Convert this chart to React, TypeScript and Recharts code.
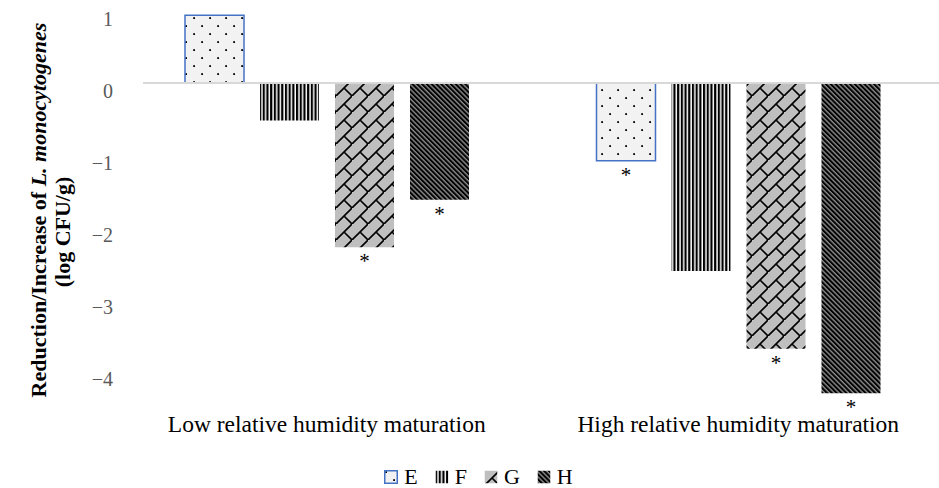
import { BarChart, Bar, XAxis, YAxis, ReferenceLine, Legend, LabelList } from "recharts";

// values (log CFU/g)
const categories = ["Low relative humidity maturation", "High relative humidity maturation"];
const valuesE = [0.94, -1.08];
const valuesF = [-0.52, -2.61];
const valuesG = [-2.28, -3.69];
const valuesH = [-1.62, -4.31];

// significance markers
const starsE = ["", "*"];
const starsF = ["", ""];
const starsG = ["*", "*"];
const starsH = ["*", "*"];

const yTicks = [1, 0, -1, -2, -3, -4];
const seriesNames = ["E", "F", "G", "H"];

const data = categories.map((name, i) => ({
  name,
  E: valuesE[i],
  F: valuesF[i],
  G: valuesG[i],
  H: valuesH[i],
  starE: starsE[i],
  starF: starsF[i],
  starG: starsG[i],
  starH: starsH[i],
}));

const SERIF = "'Liberation Serif', 'Times New Roman', serif";

const fmt = (v: number) => (v < 0 ? "\u2212" + Math.abs(v) : String(v));

function YTick(props: any) {
  const { x, y, payload } = props;
  return (
    <text x={x} y={y + 8} textAnchor="end" dominantBaseline="central" fontSize={20} fontFamily={SERIF} fill="#595959">
      {fmt(payload.value)}
    </text>
  );
}

function XTick(props: any) {
  const { x, y, payload } = props;
  return (
    <text x={x} y={y + 17} textAnchor="middle" dominantBaseline="central" fontSize={23.5} fontFamily={SERIF} fill="#000">
      {payload.value}
    </text>
  );
}

function Star(props: any) {
  const { x, y, width, height, value } = props;
  if (!value) return null;
  const bottom = Math.max(y, y + height);
  return (
    <text x={x + width / 2} y={bottom + 21} textAnchor="middle" fontSize={21} fontFamily={SERIF} fill="#000">
      {value}
    </text>
  );
}

function YTitle() {
  return (
    <g fontFamily={SERIF} fontWeight="bold" fontSize={22} fill="#000">
      <text transform="rotate(-90)" x={-210} y={38} textAnchor="middle" dominantBaseline="central">
        Reduction/Increase of <tspan fontStyle="italic">L. monocytogenes</tspan>
      </text>
      <text transform="rotate(-90)" x={-232} y={62} textAnchor="middle" dominantBaseline="central">
        (log CFU/g)
      </text>
    </g>
  );
}

function LegendBox() {
  return (
    <div
      style={{
        height: 36,
        boxSizing: "border-box",
        paddingTop: 14,
        paddingLeft: 13,
        display: "flex",
        justifyContent: "center",
        alignItems: "center",
        gap: 17,
        fontFamily: SERIF,
        fontSize: 22,
        color: "#000",
      }}
    >
      {seriesNames.map((s) => (
        <div key={s} style={{ display: "flex", alignItems: "center", height: 22 }}>
          <svg width={14} height={14} style={{ display: "block" }}>
            <rect
              x={0.75}
              y={0.75}
              width={12.5}
              height={12.5}
              fill={`url(#pat${s})`}
              stroke={s === "E" ? "#4472c4" : "none"}
              strokeWidth={1.5}
            />
          </svg>
          <span style={{ marginLeft: 6, lineHeight: "22px" }}>{s}</span>
        </div>
      ))}
    </div>
  );
}

export default function App() {
  return (
    <div style={{ position: "absolute", left: 0, top: 0, width: 939, height: 488, overflow: "hidden", background: "#fff" }}>
      <BarChart
        width={944}
        height={488}
        data={data}
        margin={{ top: 11, right: 0, bottom: 0, left: 0 }}
        barSize={59}
        barGap={16}
      >
        <defs>
          <pattern id="patE" width={16} height={16} patternUnits="userSpaceOnUse">
            <rect width={16} height={16} fill="#f2f2f2" />
            <rect x={1.2} y={1.2} width={1.8} height={1.8} fill="#000" />
            <rect x={9.2} y={9.2} width={1.8} height={1.8} fill="#000" />
          </pattern>
          <pattern id="patF" width={3.7} height={4} patternUnits="userSpaceOnUse">
            <rect width={3.7} height={4} fill="#fff" />
            <rect width={2.2} height={4} fill="#000" />
          </pattern>
          <pattern id="patG" width={16} height={16} patternUnits="userSpaceOnUse">
            <rect width={16} height={16} fill="#bfbfbf" />
            <path d="M-1 17 L17 -1 M8 8 L16 16" stroke="#000" strokeWidth={1.6} fill="none" />
          </pattern>
          <pattern id="patH" width={3.4} height={4} patternUnits="userSpaceOnUse" patternTransform="rotate(-45)">
            <rect width={3.4} height={4} fill="#8c8c8c" />
            <rect width={2} height={4} fill="#000" />
          </pattern>
        </defs>
        <XAxis dataKey="name" height={45} axisLine={false} tickLine={false} tickSize={0} tickMargin={0} tick={<XTick />} interval={0} />
        <YAxis
          width={121}
          domain={[-4.5, 1]}
          ticks={yTicks}
          axisLine={false}
          tickLine={false}
          tick={<YTick />}
          label={{ content: () => <YTitle /> }}
        />
        <ReferenceLine
          y={0}
          stroke="#d9d9d9"
          strokeWidth={2}
          shape={(p: any) => <line x1={p.x1 + 22} y1={p.y1} x2={p.x2} y2={p.y2} stroke="#d9d9d9" strokeWidth={2} />}
        />
        <Bar dataKey="E" fill="url(#patE)" stroke="#4472c4" strokeWidth={1.5} isAnimationActive={false}>
          <LabelList dataKey="starE" content={<Star />} />
        </Bar>
        <Bar dataKey="F" fill="url(#patF)" isAnimationActive={false}>
          <LabelList dataKey="starF" content={<Star />} />
        </Bar>
        <Bar dataKey="G" fill="url(#patG)" isAnimationActive={false}>
          <LabelList dataKey="starG" content={<Star />} />
        </Bar>
        <Bar dataKey="H" fill="url(#patH)" isAnimationActive={false}>
          <LabelList dataKey="starH" content={<Star />} />
        </Bar>
        <Legend verticalAlign="bottom" height={36} content={<LegendBox />} />
      </BarChart>
    </div>
  );
}
